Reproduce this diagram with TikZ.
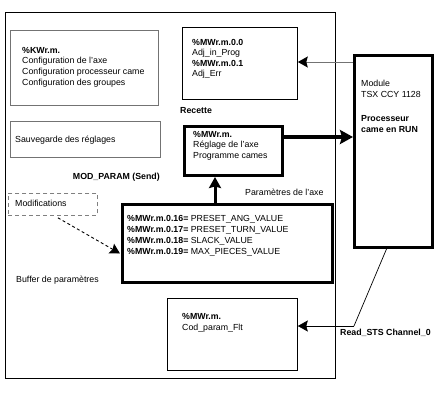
\documentclass[tikz,border=0pt]{standalone}
\usepackage{fontspec}
\setmainfont{Liberation Sans}
\usetikzlibrary{arrows.meta,calc}
\begin{document}
\begin{tikzpicture}[x=1pt,y=-1pt,
  txt/.style={anchor=base west,inner sep=0pt,font=\fontsize{8.8}{10.7}\selectfont},
  btxt/.style={txt,font=\fontsize{8.8}{10.7}\selectfont\bfseries},
  bx/.style={draw,anchor=north west,inner sep=0pt,line width=0.8pt},
  graybx/.style={bx,draw=black!55},
  dashbx/.style={bx,draw=black!50,dash pattern=on 4pt off 3pt},
  thickbx/.style={draw,anchor=north west,inner sep=0pt,line width=3pt},
  tip/.style={-{Stealth[length=10pt,width=11pt,inset=1.5pt,color=black]}},
  bigtip/.style={-{Stealth[length=13pt,width=14pt,inset=2pt,color=black]}},
  midtip/.style={-{Stealth[length=11pt,width=12pt,inset=1.5pt,color=black]}},
]
\useasboundingbox (0,0) rectangle (440,416);
% boxes
\node[bx,line width=1pt,minimum width=330pt,minimum height=366pt] (frame) at (5,12) {};
\node[graybx,minimum width=148pt,minimum height=75pt] (cfg) at (10,30) {};
\node[bx,minimum width=115pt,minimum height=72pt] (box2) at (182,27) {};
\node[thickbx,minimum width=78pt,minimum height=192pt] (mod) at (353,54) {};
\node[thickbx,minimum width=98pt,minimum height=49pt] (rec) at (183,125) {};
\node[graybx,minimum width=150pt,minimum height=36pt] (sauv) at (10,121) {};
\node[dashbx,minimum width=89pt,minimum height=22pt] (mods) at (8,193) {};
\node[thickbx,minimum width=210pt,minimum height=78pt] (par) at (121,203) {};
\node[bx,minimum width=130pt,minimum height=72pt] (cod) at (167,298) {};
% texts
\node[btxt] (t1) at (22,53) {\%KWr.m.};
\node[txt] (t2) at (22,63.7) {Configuration de l'axe};
\node[txt] (t3) at (22,74.4) {Configuration processeur came};
\node[txt] (t4) at (22,85.1) {Configuration des groupes};
\node[btxt] (u1) at (192,45) {\%MWr.m.0.0};
\node[txt] (u2) at (192,55.5) {Adj\_in\_Prog};
\node[btxt] (u3) at (192,66) {\%MWr.m.0.1};
\node[txt] (u4) at (192,76.5) {Adj\_Err};
\node[txt] (m1) at (361,86) {Module};
\node[txt] (m2) at (361,97.5) {TSX CCY 1128};
\node[btxt] (m3) at (361,121) {Processeur};
\node[btxt] (m4) at (361,132) {came en RUN};
\node[btxt] (reclab) at (180,113) {Recette};
\node[btxt] (r1) at (193,137) {\%MWr.m.};
\node[txt] (r2) at (193,147.5) {Réglage de l'axe};
\node[txt] (r3) at (193,158) {Programme cames};
\node[txt] (s1) at (15,142) {Sauvegarde des réglages};
\node[btxt,anchor=base east] (modparam) at (160,179) {MOD\_PARAM (Send)};
\node[txt] (mo1) at (15,206) {Modifications};
\node[txt] (p1) at (127,221) {\textbf{\%MWr.m.0.16=} PRESET\_ANG\_VALUE};
\node[txt] (p2) at (127,232) {\textbf{\%MWr.m.0.17=} PRESET\_TURN\_VALUE};
\node[txt] (p3) at (127,243) {\textbf{\%MWr.m.0.18=} SLACK\_VALUE};
\node[txt] (p4) at (127,254) {\textbf{\%MWr.m.0.19=} MAX\_PIECES\_VALUE};
\node[txt] (parlab) at (245,195) {Paramètres de l'axe};
\node[txt] (buf) at (16,282) {Buffer de paramètres};
\node[btxt] (c1) at (182,319) {\%MWr.m.};
\node[txt] (c2) at (182,330) {Cod\_param\_Flt};
\node[btxt] (rs) at (340,335) {Read\_STS Channel\_0};
% helper coordinates
\coordinate (y62) at (0,62);
\coordinate (y137) at (0,137);
\coordinate (x215) at (215,0);
\coordinate (rsA) at ($(mod.south)+(-7,0)$);
\coordinate (rsB) at (354,326);
% connectors
\draw[tip,draw=black!55,line width=1pt] (mod.west |- y62) -- (box2.east |- y62);
\draw[bigtip,line width=3.5pt] (rec.east |- y137) -- (mod.west |- y137);
\draw[midtip,line width=3pt] (par.north -| x215) -- (rec.south -| x215);
\draw[tip,line width=0.9pt,dash pattern=on 3pt off 2.5pt] ($(mods.south)+(5,2)$) -- ($(par.west)+(-1,10)$);
\draw[line width=0.7pt] (rsA) -- (rsB);
\draw[tip,line width=0.7pt] (rsB) -- (cod.east |- rsB);
\end{tikzpicture}
\end{document}
